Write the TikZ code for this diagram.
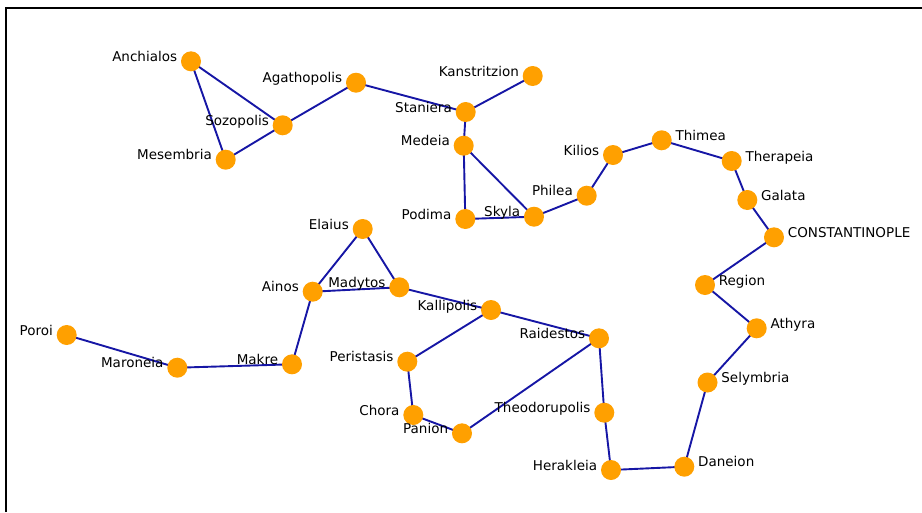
\documentclass[tikz,border=0pt]{standalone}
\usepackage{fontspec}
\setmainfont{DejaVu Sans}
\definecolor{edgeblue}{RGB}{22,22,165}
\definecolor{cityorange}{RGB}{255,160,0}
\tikzset{
  city/.style={circle, fill=cityorange, draw=none, minimum size=20pt, inner sep=0pt},
  road/.style={draw=edgeblue, line width=1.9pt},
  lbl/.style={font=\fontsize{13.5pt}{15pt}\selectfont, inner sep=0pt, text=black},
  frameline/.style={draw=black, line width=2pt},
}
\newcommand{\cityL}[4]{%
  \node[city] (#1) at (#2,#3) {};
  \node[lbl, anchor=base east] (#1-l) at ([xshift=-3.5pt]#1.west) {#4};}
\newcommand{\cityR}[4]{%
  \node[city] (#1) at (#2,#3) {};
  \node[lbl, anchor=base west] (#1-l) at ([xshift=3.5pt]#1.east) {#4};}
\begin{document}
\begin{tikzpicture}[x=1pt,y=-1pt]
\useasboundingbox (0,0) rectangle (922,512);
\coordinate (f1) at (6,512);
\coordinate (f2) at (6,7.7);
\coordinate (f3) at (923,7.7);
\draw[frameline] (f1) -- (f2) -- (f3);
% coordinates of cities
\coordinate (anch) at (191,61.3);
\coordinate (agat) at (356,82.7);
\coordinate (sozo) at (282.7,125.3);
\coordinate (mese) at (225.7,159.7);
\coordinate (kans) at (532.7,76);
\coordinate (stan) at (465.7,112);
\coordinate (mede) at (463.7,145.7);
\coordinate (podi) at (465.3,219);
\coordinate (skyl) at (534,216.7);
\coordinate (phil) at (586.7,195.7);
\coordinate (kili) at (613,155);
\coordinate (thim) at (661.7,140.3);
\coordinate (ther) at (731.7,161);
\coordinate (gala) at (747.3,200);
\coordinate (cons) at (774,237.3);
\coordinate (regi) at (705,285);
\coordinate (athy) at (756.7,328.3);
\coordinate (sely) at (707.5,382.5);
\coordinate (dane) at (684.3,466.7);
\coordinate (hera) at (611,470);
\coordinate (theo) at (604.3,412.7);
\coordinate (raid) at (599,338.3);
\coordinate (kall) at (491,310);
\coordinate (mady) at (399.3,287.3);
\coordinate (elai) at (362.7,229);
\coordinate (aino) at (312.7,291.7);
\coordinate (makr) at (292,364.3);
\coordinate (maro) at (177.3,367.7);
\coordinate (poro) at (66.7,335);
\coordinate (peri) at (407.3,361.7);
\coordinate (chor) at (413.3,415);
\coordinate (pani) at (462,433.3);
% roads
\draw[road] (anch) -- (sozo);
\draw[road] (anch) -- (mese);
\draw[road] (mese) -- (sozo);
\draw[road] (sozo) -- (agat);
\draw[road] (agat) -- (stan);
\draw[road] (stan) -- (kans);
\draw[road] (stan) -- (mede);
\draw[road] (mede) -- (podi);
\draw[road] (mede) -- (skyl);
\draw[road] (podi) -- (skyl);
\draw[road] (skyl) -- (phil);
\draw[road] (phil) -- (kili);
\draw[road] (kili) -- (thim);
\draw[road] (thim) -- (ther);
\draw[road] (ther) -- (gala);
\draw[road] (gala) -- (cons);
\draw[road] (cons) -- (regi);
\draw[road] (regi) -- (athy);
\draw[road] (athy) -- (sely);
\draw[road] (sely) -- (dane);
\draw[road] (dane) -- (hera);
\draw[road] (hera) -- (theo);
\draw[road] (theo) -- (raid);
\draw[road] (raid) -- (pani);
\draw[road] (raid) -- (kall);
\draw[road] (kall) -- (mady);
\draw[road] (kall) -- (peri);
\draw[road] (peri) -- (chor);
\draw[road] (chor) -- (pani);
\draw[road] (mady) -- (aino);
\draw[road] (mady) -- (elai);
\draw[road] (elai) -- (aino);
\draw[road] (aino) -- (makr);
\draw[road] (makr) -- (maro);
\draw[road] (maro) -- (poro);
% cities and labels
\cityL{Anch}{191}{61.3}{Anchialos}
\cityL{Agat}{356}{82.7}{Agathopolis}
\cityL{Sozo}{282.7}{125.3}{Sozopolis}
\cityL{Mese}{225.7}{159.7}{Mesembria}
\cityL{Kans}{532.7}{76}{Kanstritzion}
\cityL{Stan}{465.7}{112}{Staniera}
\cityL{Mede}{463.7}{145.7}{Medeia}
\cityL{Podi}{465.3}{219}{Podima}
\cityL{Skyl}{534}{216.7}{Skyla}
\cityL{Phil}{586.7}{195.7}{Philea}
\cityL{Kili}{613}{155}{Kilios}
\cityR{Thim}{661.7}{140.3}{Thimea}
\cityR{Ther}{731.7}{161}{Therapeia}
\cityR{Gala}{747.3}{200}{Galata}
\cityR{Cons}{774}{237.3}{CONSTANTINOPLE}
\cityR{Regi}{705}{285}{Region}
\cityR{Athy}{756.7}{328.3}{Athyra}
\cityR{Sely}{707.5}{382.5}{Selymbria}
\cityR{Dane}{684.3}{466.7}{Daneion}
\cityL{Hera}{611}{470}{Herakleia}
\cityL{Theo}{604.3}{412.7}{Theodorupolis}
\cityL{Raid}{599}{338.3}{Raidestos}
\cityL{Kall}{491}{310}{Kallipolis}
\cityL{Mady}{399.3}{287.3}{Madytos}
\cityL{Elai}{362.7}{229}{Elaius}
\cityL{Aino}{312.7}{291.7}{Ainos}
\cityL{Makr}{292}{364.3}{Makre}
\cityL{Maro}{177.3}{367.7}{Maroneia}
\cityL{Poro}{66.7}{335}{Poroi}
\cityL{Peri}{407.3}{361.7}{Peristasis}
\cityL{Chor}{413.3}{415}{Chora}
\cityL{Pani}{462}{433.3}{Panion}
\end{tikzpicture}
\end{document}
